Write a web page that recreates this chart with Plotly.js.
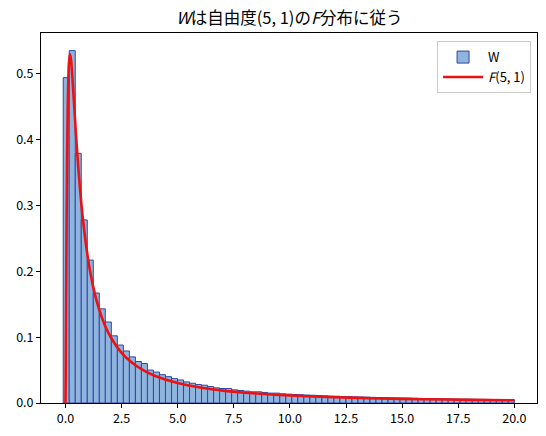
<!DOCTYPE html>
<html>
<head>
<meta charset="utf-8">
<script src="https://cdn.plot.ly/plotly-3.0.1.min.js"></script>
<style>html,body{margin:0;padding:0;background:#fff;}#chart{width:546px;height:436px;}</style>
</head>
<body>
<div id="chart"></div>
<script>
// Histogram of W: bins start and width, densities
const binStart = -0.1;
const binWidth = 0.268;
const histDensity = [
  0.494, 0.535, 0.379, 0.278, 0.217, 0.167, 0.143, 0.123, 0.102, 0.088,
  0.079, 0.070, 0.063, 0.060, 0.050, 0.047, 0.043, 0.040, 0.037, 0.035,
  0.032, 0.030, 0.028, 0.027, 0.025, 0.023, 0.022, 0.022, 0.020, 0.019,
  0.018, 0.017, 0.017, 0.016, 0.015, 0.015, 0.014, 0.0135, 0.013, 0.0126,
  0.0121, 0.0118, 0.0113, 0.011, 0.0105, 0.0103, 0.0099, 0.0097, 0.0093, 0.0091,
  0.0089, 0.0086, 0.0083, 0.0082, 0.0079, 0.0077, 0.0075, 0.0074, 0.0071, 0.0069,
  0.0068, 0.0067, 0.0065, 0.0063, 0.0062, 0.0060, 0.0059, 0.0058, 0.0056, 0.0055,
  0.0054, 0.0053, 0.0052, 0.0051, 0.0050
];
// F(5,1) density curve
const curveX = [0, 0.01, 0.02, 0.03, 0.05, 0.075, 0.1, 0.15, 0.2, 0.25, 0.3, 0.4, 0.5, 0.6, 0.75,
  1, 1.25, 1.5, 1.75, 2, 2.5, 3, 3.5, 4, 5, 6, 7, 8, 9, 10, 12, 14, 16, 18, 20];
const curveY = [0, 0.041, 0.101, 0.162, 0.272, 0.375, 0.445, 0.514, 0.530, 0.521, 0.499, 0.445, 0.391, 0.345, 0.288,
  0.220, 0.174, 0.142, 0.1185, 0.101, 0.0762, 0.0602, 0.0491, 0.0410, 0.0302, 0.0234, 0.0188, 0.0156, 0.0132, 0.0113,
  0.0087, 0.0069, 0.0057, 0.0048, 0.0041];
const xTicks = [0, 2.5, 5, 7.5, 10, 12.5, 15, 17.5, 20];
const yTicks = [0, 0.1, 0.2, 0.3, 0.4, 0.5];

const binCenters = histDensity.map((_, i) => binStart + (i + 0.5) * binWidth);

const FONT = '"Noto Sans CJK JP", "Noto Sans", sans-serif';

const traces = [
  {
    type: 'bar', name: 'W', x: binCenters, y: histDensity, width: binWidth,
    marker: {color: '#8fb5de', line: {color: '#33479f', width: 1}},
    hoverinfo: 'skip'
  },
  {
    type: 'scatter', mode: 'lines', name: '<i>F</i>(5, 1)', x: curveX, y: curveY,
    line: {color: '#ee1111', width: 2.6, shape: 'spline', smoothing: 0.6},
    hoverinfo: 'skip'
  }
];

const axisCommon = {
  showgrid: false, zeroline: false, showline: true, linecolor: '#000', linewidth: 1,
  mirror: true, ticks: 'outside', ticklen: 4, tickwidth: 1, tickcolor: '#000',
  tickfont: {family: FONT, size: 12.5, color: '#000'}
};

const layout = {
  width: 546, height: 436,
  margin: {l: 41, r: 9, t: 33, b: 33},
  paper_bgcolor: '#fff', plot_bgcolor: '#fff',
  bargap: 0,
  showlegend: true,
  title: {
    text: '<i>W</i>は自由度(5, 1)の<i>F</i>分布に従う',
    font: {family: FONT, size: 16.5, color: '#000'},
    x: 0.53, xanchor: 'center', y: 0.958, yanchor: 'middle'
  },
  xaxis: Object.assign({}, axisCommon, {
    range: [-1.09, 21.01], tickvals: xTicks, ticktext: xTicks.map(v => v.toFixed(1))
  }),
  yaxis: Object.assign({}, axisCommon, {
    range: [0, 0.5618], tickvals: yTicks, ticktext: yTicks.map(v => v.toFixed(1))
  }),
  legend: {
    x: 0.988, y: 0.978, xanchor: 'right', yanchor: 'top',
    bgcolor: 'rgba(255,255,255,0.85)', bordercolor: '#cccccc', borderwidth: 1,
    font: {family: FONT, size: 13, color: '#000'},
    itemwidth: 40,
    tracegroupgap: 4
  }
};

Plotly.newPlot('chart', traces, layout, {staticPlot: true, displayModeBar: false});
</script>
</body>
</html>
